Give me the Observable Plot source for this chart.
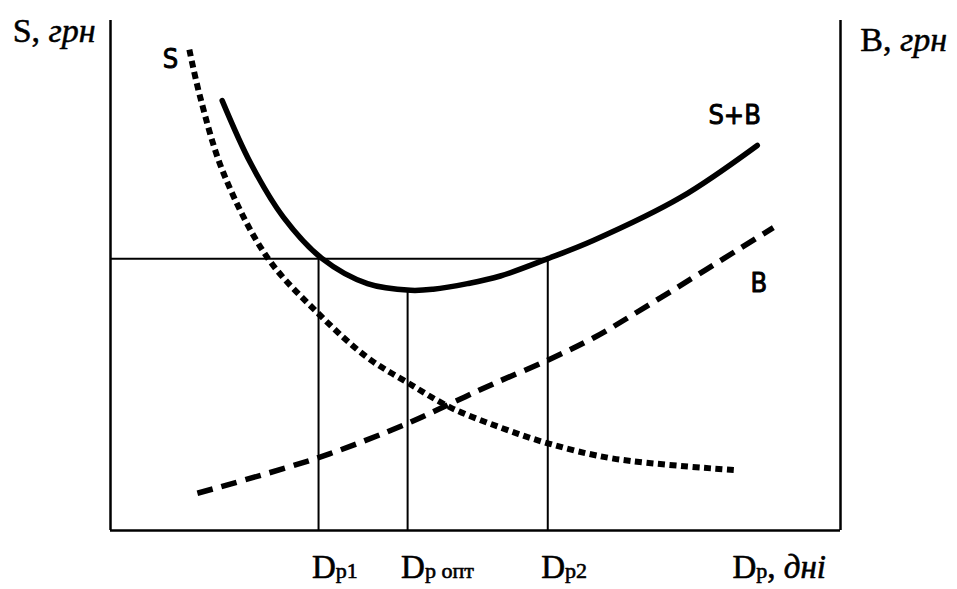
<!DOCTYPE html>
<html>
<head>
<meta charset="utf-8">
<script src="https://cdn.jsdelivr.net/npm/d3@7"></script>
<script src="https://cdn.jsdelivr.net/npm/@observablehq/plot@0.6"></script>
<style>
  html, body { margin: 0; padding: 0; background: #fff; }
</style>
</head>
<body>
<div id="chart"></div>
<script>
// ---- data (abstract units: x 0..100 = frame width, y 0..100 = frame height)
const sbX = [15.3, 19.2, 23.7, 29.0, 35.2, 41.1, 44.2, 48.9, 53.4, 59.9, 66.2, 78.1, 88.6];
const sbY = [84.3, 72.0, 61.4, 53.3, 48.4, 47.1, 47.3, 48.4, 49.9, 53.3, 56.9, 65.3, 75.5];

const sX = [10.8, 12.3, 15.5, 21.5, 28.5, 35.2, 40.7, 46.6, 53.4, 59.9, 68.9, 85.9];
const sY = [94.3, 84.9, 70.0, 53.5, 42.5, 33.9, 29.0, 24.1, 20.2, 17.1, 14.1, 11.8];

const bX = [11.9, 28.5, 40.7, 46.6, 52.5, 59.9, 66.2, 73.6, 90.8];
const bY = [7.3, 14.3, 21.0, 24.9, 28.8, 33.4, 37.8, 44.1, 59.4];

// reference points
const dpNames = ["Dp1", "Dp опт", "Dp2"];
const dpX = [28.5, 40.7, 59.9];
const dpTop = [53.3, 46.9, 53.3];
const levelY = 53.3;

// labels
const curveLabels = ["S", "S+B", "B"];
const curveLabelX = [8.2, 85.5, 88.8];
const curveLabelY = [90.6, 79.8, 46.7];

const axisTitles = ["S, грн", "B, грн"];
const axisTitleX = [-13.4, 102.7];
const axisTitleY = [95.7, 94.1];

const xEndLabel = "Dp, дні";
const xEndLabelX = 85.2;
const tickLabelY = -9.4;

// ---- build tables
const sb = sbX.map((x, i) => ({x, y: sbY[i]}));
const s = sX.map((x, i) => ({x, y: sY[i]}));
const b = bX.map((x, i) => ({x, y: bY[i]}));
const dps = dpNames.map((name, i) => ({name, x: dpX[i], top: dpTop[i]}));
const cl = curveLabels.map((t, i) => ({t, x: curveLabelX[i], y: curveLabelY[i]}));
const at = axisTitles.map((t, i) => ({t, x: axisTitleX[i], y: axisTitleY[i]}));
const bottomLabels = [...dps.map(d => ({t: d.name, x: d.x - 0.9})), {t: xEndLabel, x: xEndLabelX}];

const serif = "'Liberation Serif', 'Times New Roman', serif";
const sans = "'Liberation Sans Narrow', 'Arial Narrow', 'DejaVu Sans Condensed', 'Liberation Sans', sans-serif";

const chart = Plot.plot({
  width: 957,
  height: 589,
  marginLeft: 110,
  marginRight: 117,
  marginTop: 20,
  marginBottom: 59,
  x: {domain: [0, 100], axis: null},
  y: {domain: [0, 100], axis: null},
  style: {background: "#fff", color: "#000", overflow: "visible"},
  marks: [
    // frame: left, right and bottom axes
    Plot.ruleX([0, 100], {y1: 0, y2: 100, stroke: "#000", strokeWidth: 2.5}),
    Plot.ruleY([0], {x1: 0, x2: 100, stroke: "#000", strokeWidth: 2.5}),
    // guide lines
    Plot.ruleY([levelY], {x1: 0, x2: dpX[2], stroke: "#000", strokeWidth: 2}),
    Plot.ruleX(dps, {x: "x", y1: 0, y2: "top", stroke: "#000", strokeWidth: 2}),
    // curves
    Plot.line(s, {x: "x", y: "y", curve: "catmull-rom", stroke: "#000", strokeWidth: 6,
      strokeDasharray: "7,4.5", strokeLinecap: "butt"}),
    Plot.line(b, {x: "x", y: "y", curve: "catmull-rom", stroke: "#000", strokeWidth: 5.5,
      strokeDasharray: "16,9", strokeLinecap: "butt"}),
    Plot.line(sb, {x: "x", y: "y", curve: "catmull-rom", stroke: "#000", strokeWidth: 5.5,
      strokeLinecap: "round"}),
    // curve labels
    Plot.text(cl, {x: "x", y: "y", text: "t", textAnchor: "middle", lineAnchor: "bottom",
      fontFamily: sans, fontSize: 27, fill: "#000", stroke: "#000", strokeWidth: 0.9}),
    // axis titles
    Plot.text(at, {x: "x", y: "y", text: "t", textAnchor: "start", lineAnchor: "bottom",
      fontFamily: serif, fontSize: 34, fill: "#000", stroke: "#000", strokeWidth: 0.5}),
    // bottom labels
    Plot.text(bottomLabels, {x: "x", y: tickLabelY, text: "t", textAnchor: "start", lineAnchor: "bottom",
      fontFamily: serif, fontSize: 33, fill: "#000", stroke: "#000", strokeWidth: 0.6})
  ]
});

// rich text: subscript-like small "p..." after "D", italic units after comma
function richify(el) {
  const str = el.textContent;
  let parts = null;
  if (/^D/.test(str)) {
    const rest = str.slice(1);
    const ci = rest.indexOf(",");
    parts = [{t: "D"}];
    if (ci >= 0) {
      parts.push({t: rest.slice(0, ci), small: true});
      parts.push({t: ", "});
      parts.push({t: rest.slice(ci + 1).trim(), italic: true});
    } else {
      parts.push({t: rest, small: true});
    }
  } else if (/, /.test(str)) {
    const ci = str.indexOf(", ");
    parts = [{t: str.slice(0, ci + 2)}, {t: str.slice(ci + 2), italic: true}];
  }
  if (!parts) return;
  el.textContent = "";
  for (const p of parts) {
    const ts = document.createElementNS("http://www.w3.org/2000/svg", "tspan");
    ts.textContent = p.t;
    ts.setAttribute("xml:space", "preserve");
    if (p.small) ts.setAttribute("font-size", "22");
    if (p.italic) ts.setAttribute("font-style", "italic");
    el.appendChild(ts);
  }
  el.setAttribute("xml:space", "preserve");
}
chart.querySelectorAll("text").forEach(richify);

document.getElementById("chart").appendChild(chart);
</script>
</body>
</html>
